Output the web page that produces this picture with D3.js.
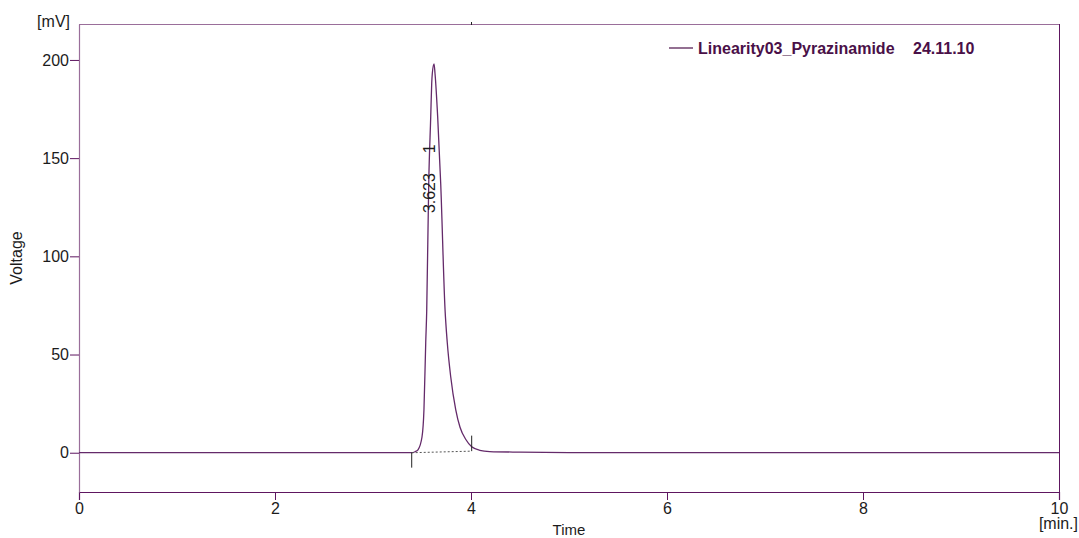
<!DOCTYPE html>
<html>
<head>
<meta charset="utf-8">
<script src="https://cdn.jsdelivr.net/npm/d3@7"></script>
<style>
  body { margin: 0; background: #fff; }
  svg { display: block; font-family: "Liberation Sans", Arial, sans-serif; }
</style>
</head>
<body>
<svg id="chart" width="1079" height="538"></svg>
<script>
// chromatogram trace (time in min, signal in mV)
const traceTime = [0, 1, 2, 3, 3.3, 3.395, 3.429, 3.459, 3.5, 3.52, 3.538, 3.548, 3.569, 3.589, 3.599, 3.605, 3.623,
  3.633, 3.66, 3.691, 3.735, 3.758, 3.793, 3.844, 3.888, 3.949, 4.007, 4.09, 4.19, 4.5, 5, 6, 8, 10]
const traceMv = [0, 0, 0, 0, 0, 0, 0.5, 1.5, 8, 22, 56, 72, 138, 171, 188, 193, 198,
  193, 171, 137, 73, 56, 38.7, 22, 13, 6.6, 3, 1.2, 0.6, 0.3, 0.1, 0.05, 0, 0]

// integration: peak start/end and baseline
const peakNames = ["1"]
const peakRt = [3.623]
const peakStart = [3.395]
const peakEnd = [4.007]
const baseStartMv = [0]
const baseEndMv = [0.8]

const xTicks = [0, 2, 4, 6, 8, 10]
const yTicks = [0, 50, 100, 150, 200]
const legendName = "Linearity03_Pyrazinamide"
const legendDate = "24.11.10"

var svg = d3.select("#chart")
var pLeft = 79, pRight = 1059, pTop = 24, pBottom = 492

var x = d3.scaleLinear().domain([0, 10]).range([pLeft, pRight])
var y = d3.scaleLinear().domain([-20, 218.3]).range([pBottom, pTop])

var lightFrame = "#9a6e9a", darkFrame = "#5e1660", textCol = "#1c1c1c"
var fs = "16px"

// frame
svg.append("line").attr("x1", pLeft).attr("x2", pRight).attr("y1", pTop + 0.5).attr("y2", pTop + 0.5)
  .attr("stroke", lightFrame).attr("stroke-width", 1.2)
svg.append("line").attr("x1", pRight + 0.5).attr("x2", pRight + 0.5).attr("y1", pTop).attr("y2", pBottom)
  .attr("stroke", darkFrame).attr("stroke-width", 1)
// small tick on top border
svg.append("line").attr("x1", x(4) + 0.5).attr("x2", x(4) + 0.5).attr("y1", pTop - 2).attr("y2", pTop + 1)
  .attr("stroke", "#222").attr("stroke-width", 1)

// axes
var xAxis = svg.append("g").attr("transform", "translate(0," + pBottom + ")")
  .call(d3.axisBottom(x).tickValues(xTicks).tickSize(8).tickPadding(3).tickFormat(d3.format("d")))
xAxis.select(".domain").attr("stroke", darkFrame).attr("stroke-width", 1.2)
xAxis.selectAll(".tick line").attr("stroke", darkFrame)
xAxis.selectAll("text").attr("fill", textCol).style("font-size", fs).style("font-family", "Liberation Sans, Arial, sans-serif")

var yAxis = svg.append("g").attr("transform", "translate(" + pLeft + ",0)")
  .call(d3.axisLeft(y).tickValues(yTicks).tickSize(9).tickPadding(1).tickSizeOuter(0))
yAxis.select(".domain").attr("stroke", lightFrame).attr("stroke-width", 1.2)
yAxis.selectAll(".tick line").attr("stroke", darkFrame)
yAxis.selectAll("text").attr("fill", textCol).style("font-size", fs).style("font-family", "Liberation Sans, Arial, sans-serif")

// unit & axis titles
svg.append("text").attr("x", 70).attr("y", 27).attr("text-anchor", "end")
  .attr("fill", textCol).style("font-size", fs).text("[mV]")
svg.append("text").attr("x", 1078).attr("y", 529).attr("text-anchor", "end")
  .attr("fill", textCol).style("font-size", fs).text("[min.]")
svg.append("text").attr("x", (pLeft + pRight) / 2).attr("y", 535).attr("text-anchor", "middle")
  .attr("fill", textCol).style("font-size", "15px").text("Time")
svg.append("text").attr("transform", "translate(22," + (pTop + pBottom) / 2 + ") rotate(-90)")
  .attr("text-anchor", "middle").attr("fill", textCol).style("font-size", fs).text("Voltage")

// trace
var pts = traceTime.map((t, i) => [t, traceMv[i]])
var line = d3.line().x(d => x(d[0])).y(d => y(d[1])).curve(d3.curveMonotoneX)
svg.append("path").datum(pts).attr("d", line)
  .attr("fill", "none").attr("stroke", "#642a6a").attr("stroke-width", 1.3)

// integration baseline + markers
peakStart.forEach((s, i) => {
  svg.append("line").attr("x1", x(s)).attr("y1", y(baseStartMv[i])).attr("x2", x(peakEnd[i])).attr("y2", y(baseEndMv[i]))
    .attr("stroke", "#555").attr("stroke-width", 1).attr("stroke-dasharray", "2,2")
  svg.append("line").attr("x1", x(s)).attr("x2", x(s)).attr("y1", y(0)).attr("y2", y(-7.6))
    .attr("stroke", "#222").attr("stroke-width", 1)
  svg.append("line").attr("x1", x(peakEnd[i])).attr("x2", x(peakEnd[i])).attr("y1", y(baseEndMv[i])).attr("y2", y(8.7))
    .attr("stroke", "#222").attr("stroke-width", 1)
})

// peak labels (retention time and peak number), rotated
peakRt.forEach((rt, i) => {
  svg.append("text").attr("transform", "translate(" + (x(rt) + 1) + "," + y(122) + ") rotate(-90)")
    .attr("fill", textCol).style("font-size", fs).text(d3.format(".3f")(rt))
  svg.append("text").attr("transform", "translate(" + (x(rt) + 1) + "," + y(152.5) + ") rotate(-90)")
    .attr("fill", textCol).style("font-size", fs).text(peakNames[i])
})

// legend
var lg = svg.append("g")
lg.append("line").attr("x1", 669).attr("x2", 693).attr("y1", 48).attr("y2", 48)
  .attr("stroke", "#4a1048").attr("stroke-width", 1.2)
lg.append("text").attr("x", 698).attr("y", 54).attr("fill", "#4a1048")
  .style("font-size", fs).style("font-weight", "bold").text(legendName)
lg.append("text").attr("x", 913).attr("y", 54).attr("fill", "#4a1048")
  .style("font-size", fs).style("font-weight", "bold").text(legendDate)
</script>
</body>
</html>
